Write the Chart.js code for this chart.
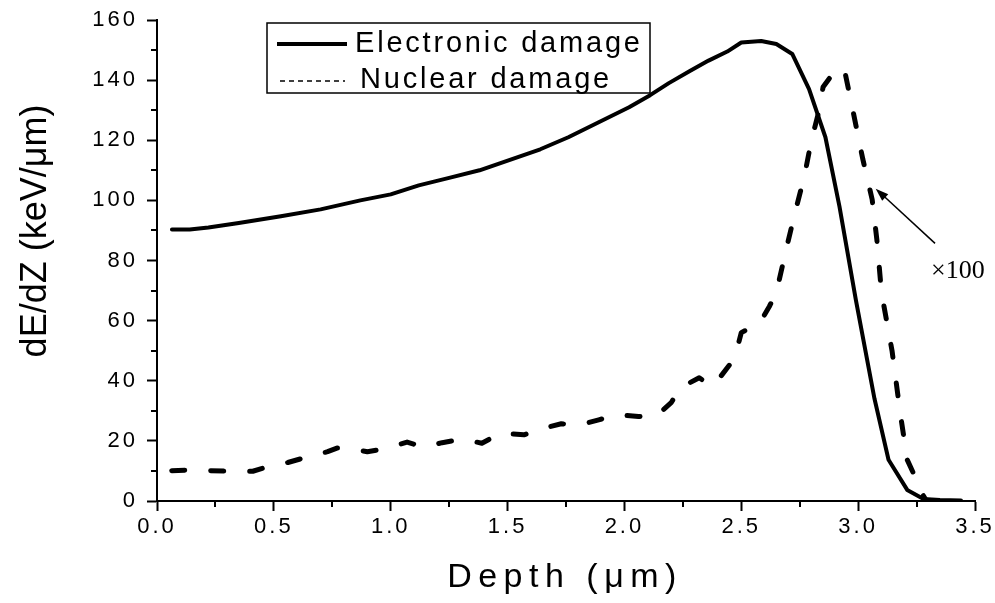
<!DOCTYPE html>
<html>
<head>
<meta charset="utf-8">
<script src="https://cdn.jsdelivr.net/npm/chart.js@4.4.1/dist/chart.umd.min.js"></script>
<style>
  html, body { margin: 0; padding: 0; background: #fff; }
  #wrap { width: 995px; height: 603px; }
</style>
</head>
<body>
<div id="wrap"><canvas id="mychart" width="995" height="603"></canvas></div>
<script>
// depth (um) and dE/dZ (keV/um)
const electronicX = [0.064, 0.14, 0.22, 0.35, 0.53, 0.70, 0.87, 1.00, 1.12, 1.25, 1.38, 1.51, 1.64, 1.76, 1.89, 2.02, 2.11, 2.19, 2.28, 2.36, 2.44, 2.50, 2.585, 2.65, 2.718, 2.79, 2.86, 2.92, 2.99, 3.07, 3.13, 3.21, 3.28, 3.35, 3.44];
const electronicY = [90.3, 90.3, 91, 92.5, 94.7, 97, 100, 102, 105, 107.5, 110, 113.5, 117, 121, 126, 131, 135, 139, 143, 146.5, 149.5, 152.5, 153, 152, 148.7, 137, 121, 98, 67, 34, 13.7, 3.7, 0.7, 0.3, 0.2];

const nuclearX = [0.063, 0.14, 0.23, 0.31, 0.41, 0.47, 0.56, 0.64, 0.73, 0.77, 0.81, 0.90, 0.97, 1.07, 1.14, 1.22, 1.31, 1.39, 1.47, 1.57, 1.64, 1.73, 1.81, 1.89, 1.97, 2.06, 2.14, 2.20, 2.24, 2.32, 2.37, 2.39, 2.45, 2.48, 2.50, 2.58, 2.62, 2.65, 2.69, 2.73, 2.77, 2.80, 2.83, 2.85, 2.89, 2.94, 2.98, 3.02, 3.06, 3.08, 3.10, 3.145, 3.18, 3.21, 3.25, 3.27, 3.29];
const nuclearY = [10.1, 10.3, 10.1, 9.9, 9.9, 11.3, 12.8, 14.6, 16.4, 17.6, 17.6, 16.4, 17.3, 19.6, 17.9, 19.4, 20.6, 19.2, 22.6, 22, 23.9, 25.7, 25.3, 27, 28.7, 28.1, 28.5, 32.7, 37.7, 41, 38.3, 39.2, 45.3, 50, 56, 59.3, 64.7, 69.3, 83, 96, 108, 120, 129, 137.7, 142, 144, 129, 113.7, 100.3, 87, 69.3, 50, 29.3, 13.7, 7, 3, 0.3];

const xTicks = [0, 0.5, 1.0, 1.5, 2.0, 2.5, 3.0, 3.5];
const xMinor = [0.25, 0.75, 1.25, 1.75, 2.25, 2.75, 3.25];
const yTicks = [0, 20, 40, 60, 80, 100, 120, 140, 160];
const yMinor = [10, 30, 50, 70, 90, 110, 130, 150];

const seriesNames = ['Electronic damage', 'Nuclear damage'];
const xTitle = 'Depth (\u03bcm)';
const yTitle = 'dE/dZ (keV/\u03bcm)';

// the "x100" note with its arrow, in data units
const noteText = '\u00d7100';
const noteAt = [3.312, 74.3];
const arrowFrom = [3.329, 85.7];
const arrowTo = [3.075, 103.9];

const SANS = "'Liberation Sans', Arial, sans-serif";
const SERIF = "'Liberation Serif', 'Times New Roman', serif";

const toPoints = (xs, ys) => xs.map((x, i) => ({ x: x, y: ys[i] }));

// letter spacing for the tick labels (Arial in the picture is spaced out)
const spacing = {
    id: 'spacing',
    beforeLayout(chart) { chart.ctx.letterSpacing = '3px'; },
    beforeDraw(chart) { chart.ctx.letterSpacing = '3px'; }
};

// minor ticks, titles, legend box and the x100 note
const extras = {
    id: 'extras',
    afterDraw(chart) {
        const ctx = chart.ctx;
        const xs = chart.scales.x;
        const ys = chart.scales.y;
        const area = chart.chartArea;

        ctx.save();
        ctx.letterSpacing = '0px';
        ctx.strokeStyle = '#000';
        ctx.fillStyle = '#000';

        // minor ticks
        ctx.lineWidth = 2;
        ctx.beginPath();
        xMinor.forEach(v => {
            const px = Math.round(xs.getPixelForValue(v));
            ctx.moveTo(px, area.bottom);
            ctx.lineTo(px, area.bottom + 6);
        });
        yMinor.forEach(v => {
            const py = Math.round(ys.getPixelForValue(v));
            ctx.moveTo(area.left, py);
            ctx.lineTo(area.left - 6, py);
        });
        ctx.stroke();

        // axis titles
        ctx.font = '34px ' + SANS;
        ctx.letterSpacing = '6.5px';
        ctx.textAlign = 'center';
        ctx.textBaseline = 'alphabetic';
        ctx.fillText(xTitle, 565, 587);

        ctx.letterSpacing = '0px';
        ctx.font = '36px ' + SANS;
        ctx.save();
        ctx.translate(46, 231);
        ctx.rotate(-Math.PI / 2);
        ctx.fillText(yTitle, 0, 0);
        ctx.restore();

        // legend
        ctx.lineWidth = 1.5;
        ctx.strokeRect(267, 23, 383, 70);
        ctx.lineWidth = 4;
        ctx.beginPath();
        ctx.moveTo(277, 44);
        ctx.lineTo(347, 44);
        ctx.stroke();
        ctx.lineWidth = 1.5;
        ctx.setLineDash([5, 4]);
        ctx.beginPath();
        ctx.moveTo(280, 81);
        ctx.lineTo(345, 81);
        ctx.stroke();
        ctx.setLineDash([]);
        ctx.font = '29px ' + SANS;
        ctx.letterSpacing = '2.8px';
        ctx.textAlign = 'left';
        ctx.fillText(seriesNames[0], 355, 52);
        ctx.fillText(seriesNames[1], 360, 88);

        // x100 note and arrow
        ctx.letterSpacing = '0px';
        const fx = xs.getPixelForValue(arrowFrom[0]);
        const fy = ys.getPixelForValue(arrowFrom[1]);
        const tx = xs.getPixelForValue(arrowTo[0]);
        const ty = ys.getPixelForValue(arrowTo[1]);
        const ang = Math.atan2(ty - fy, tx - fx);
        ctx.lineWidth = 1.5;
        ctx.beginPath();
        ctx.moveTo(fx, fy);
        ctx.lineTo(tx - 8 * Math.cos(ang), ty - 8 * Math.sin(ang));
        ctx.stroke();
        ctx.beginPath();
        ctx.moveTo(tx, ty);
        ctx.lineTo(tx - 13 * Math.cos(ang) + 4.5 * Math.sin(ang), ty - 13 * Math.sin(ang) - 4.5 * Math.cos(ang));
        ctx.lineTo(tx - 13 * Math.cos(ang) - 4.5 * Math.sin(ang), ty - 13 * Math.sin(ang) + 4.5 * Math.cos(ang));
        ctx.closePath();
        ctx.fill();
        ctx.font = '26px ' + SERIF;
        ctx.fillText(noteText, xs.getPixelForValue(noteAt[0]), ys.getPixelForValue(noteAt[1]));

        ctx.restore();
    }
};

const ctx = document.getElementById('mychart');
const myChart = new Chart(ctx, {
    type: 'scatter',
    data: {
        datasets: [{
            label: seriesNames[0],
            data: toPoints(electronicX, electronicY),
            showLine: true,
            borderColor: '#000',
            borderWidth: 4,
            pointRadius: 0,
            tension: 0,
            borderJoinStyle: 'round',
            borderCapStyle: 'round'
        }, {
            label: seriesNames[1],
            data: toPoints(nuclearX, nuclearY),
            showLine: true,
            borderColor: '#000',
            borderWidth: 5,
            borderDash: [13, 26],
            borderCapStyle: 'round',
            borderJoinStyle: 'round',
            pointRadius: 0,
            tension: 0
        }]
    },
    plugins: [spacing, extras],
    options: {
        responsive: false,
        animation: false,
        events: [],
        layout: {
            padding: { top: 20, right: 20, left: 0, bottom: 0 }
        },
        scales: {
            x: {
                type: 'linear',
                min: 0,
                max: 3.5,
                afterBuildTicks: s => { s.ticks = xTicks.map(v => ({ value: v })); },
                afterFit: s => { s.height = 102; s.paddingLeft = 0; s.paddingRight = 0; },
                ticks: {
                    color: '#000',
                    font: { family: SANS, size: 22 },
                    padding: 3,
                    maxRotation: 0,
                    callback: v => v.toFixed(1)
                },
                grid: {
                    drawOnChartArea: false,
                    drawTicks: true,
                    tickLength: 10,
                    tickWidth: 2,
                    tickColor: '#000'
                },
                border: { color: '#000', width: 2 }
            },
            y: {
                min: 0,
                max: 160,
                afterBuildTicks: s => { s.ticks = yTicks.map(v => ({ value: v })); },
                afterFit: s => { s.width = 157; s.paddingTop = 0; s.paddingBottom = 0; },
                ticks: {
                    color: '#000',
                    font: { family: SANS, size: 22 },
                    padding: 9
                },
                grid: {
                    drawOnChartArea: false,
                    drawTicks: true,
                    tickLength: 10,
                    tickWidth: 2,
                    tickColor: '#000'
                },
                border: { color: '#000', width: 2 }
            }
        },
        plugins: {
            legend: { display: false },
            tooltip: { enabled: false },
            title: { display: false }
        }
    }
});
</script>
</body>
</html>
